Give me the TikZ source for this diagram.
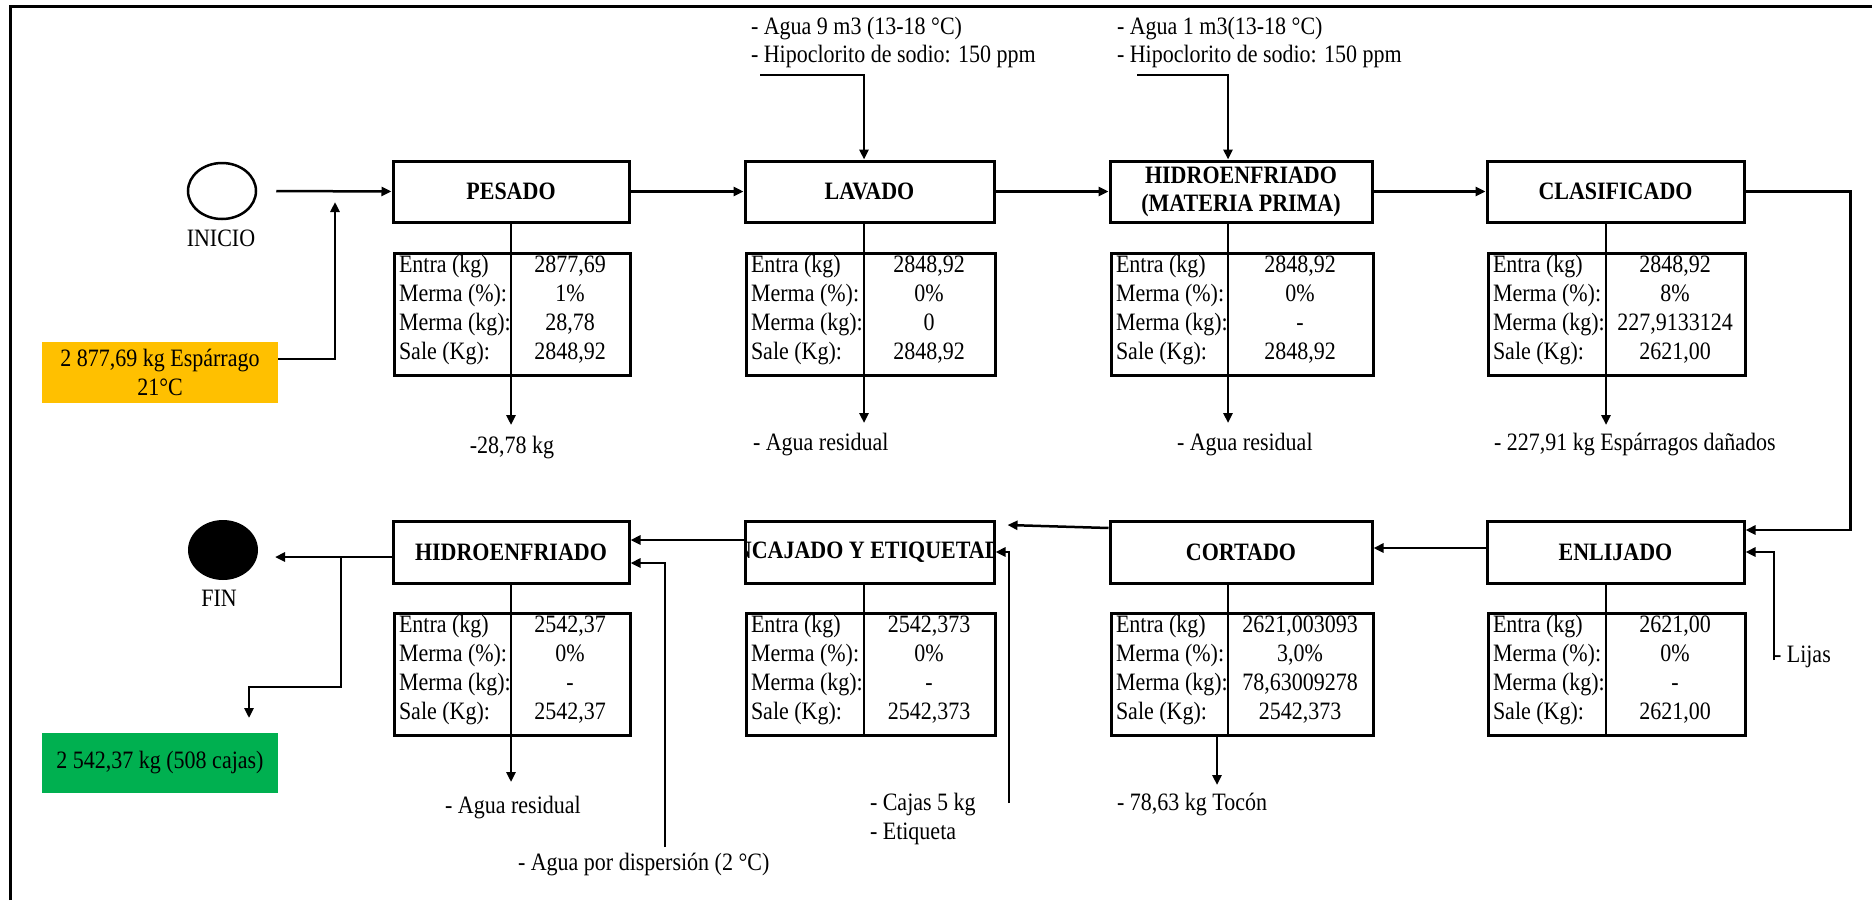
\documentclass[tikz,border=0pt]{standalone}
\usepackage{fontspec}
\setmainfont[FakeStretch=0.88]{Liberation Serif}
\usetikzlibrary{arrows.meta,shapes.geometric,calc}
\definecolor{amarillo}{HTML}{FFC000}
\definecolor{verde}{HTML}{00B050}

\tikzset{
  txt/.style={font=\fontsize{25}{28}\selectfont, inner sep=0pt, outer sep=0pt},
  proc/.style={draw, line width=3pt, inner sep=0pt, minimum height=61pt,
    font=\fontsize{25}{28}\selectfont\bfseries, align=center},
  tbl/.style={draw, line width=3pt, inner sep=0pt, minimum height=122pt, anchor=north west},
  con/.style={line width=2.5pt},
  arr/.style={con, -{Triangle[length=10pt,width=9pt]}},
}

% balance table: name, left x, top y, width, divider x, entra, merma %, merma kg, sale
\newcommand\tabla[9]{%
  \node[tbl, minimum width=#4pt] (#1) at (#2,#3) {};
  \coordinate (#1-d) at (#5,#3);
  \draw[line width=2.5pt] (#5,#3) -- (#5,{#3+122});
  \node[txt, anchor=mid west] (#1-l1) at ({#2+6},{#3+18}) {Entra (kg)};
  \node[txt, anchor=mid west] (#1-l2) at ({#2+6},{#3+47}) {Merma (\%):};
  \node[txt, anchor=mid west] (#1-l3) at ({#2+6},{#3+76}) {Merma (kg):};
  \node[txt, anchor=mid west] (#1-l4) at ({#2+6},{#3+105}) {Sale (Kg):};
  \node[txt, anchor=mid] (#1-v1) at ({(#5+#2+#4)/2},{#3+18}) {#6};
  \node[txt, anchor=mid] (#1-v2) at ({(#5+#2+#4)/2},{#3+47}) {#7};
  \node[txt, anchor=mid] (#1-v3) at ({(#5+#2+#4)/2},{#3+76}) {#8};
  \node[txt, anchor=mid] (#1-v4) at ({(#5+#2+#4)/2},{#3+105}) {#9};
}

\begin{document}
\begin{tikzpicture}[x=1pt,y=-1pt]
\fill[white] (0,0) rectangle (1872,900);
\useasboundingbox (0,0) rectangle (1872,900);
\draw[line width=3pt] (10,900) -- (10,6) -- (1872,6);

% start and end
\node[draw, ellipse, line width=2.5pt, minimum width=68pt, minimum height=56pt, inner sep=0pt] (ini) at (222,191) {};
\node[txt] (inilab) at (221,238) {INICIO};
\node[fill, ellipse, minimum width=70pt, minimum height=60pt, inner sep=0pt] (fin) at (223,550) {};
\node[txt] (finlab) at (219,598) {FIN};

% process boxes, first row
\node[proc, minimum width=236pt] (pes) at (511,191.5) {PESADO};
\node[proc, minimum width=249pt] (lav) at (869.5,191.5) {LAVADO};
\node[proc, minimum width=262pt] (hmp) at (1241,191.5) {HIDROENFRIADO\\(MATERIA PRIMA)};
\node[proc, minimum width=257pt] (cla) at (1615.5,191.5) {CLASIFICADO};

% process boxes, second row
\node[proc, minimum width=236pt, minimum height=62pt] (hid) at (511,552) {HIDROENFRIADO};
\node[proc, minimum width=249pt, minimum height=62pt,
  path picture={\node[font=\fontsize{25}{28}\selectfont\bfseries, inner sep=0pt] (enctxt)
    at (path picture bounding box.center) {ENCAJADO Y ETIQUETADO};}] (enc) at (869.5,552) {};
\node[proc, minimum width=262pt, minimum height=62pt] (cor) at (1241,552) {CORTADO};
\node[proc, minimum width=257pt, minimum height=62pt] (enl) at (1615.5,552) {ENLIJADO};

% balance tables
\tabla{tpes}{393}{252}{236}{511}{2877,69}{1\%}{28,78}{2848,92}
\tabla{tlav}{745}{252}{249}{864}{2848,92}{0\%}{0}{2848,92}
\tabla{thmp}{1110}{252}{262}{1228}{2848,92}{0\%}{-}{2848,92}
\tabla{tcla}{1487}{252}{257}{1606}{2848,92}{8\%}{227,9133124}{2621,00}
\tabla{thid}{393}{612}{236}{511}{2542,37}{0\%}{-}{2542,37}
\tabla{tenc}{745}{612}{249}{864}{2542,373}{0\%}{-}{2542,373}
\tabla{tcor}{1110}{612}{262}{1228}{2621,003093}{3,0\%}{78,63009278}{2542,373}
\tabla{tenl}{1487}{612}{257}{1606}{2621,00}{0\%}{-}{2621,00}

% raw material and final product
\node[txt, fill=amarillo, minimum width=236pt, minimum height=61pt, align=center,
  font=\fontsize{25}{29}\selectfont] (yel) at (160,372.5) {2 877,69 kg Espárrago\\21°C};
\node[txt, fill=verde, minimum width=236pt, minimum height=60pt] (grn) at (160,763) {2 542,37 kg (508 cajas)};

% inputs
\node[txt, anchor=mid west] (lavin1) at (751,32) {- Agua 9 m3 (13-18 °C)};
\node[txt, anchor=mid west] (lavin2) at (751,60) {- Hipoclorito de sodio: 150 ppm};
\node[txt, anchor=mid west] (hmpin1) at (1117,32) {- Agua 1 m3(13-18 °C)};
\node[txt, anchor=mid west] (hmpin2) at (1117,60) {- Hipoclorito de sodio: 150 ppm};
\node[txt, anchor=mid west] (caj1) at (870,808) {- Cajas 5 kg};
\node[txt, anchor=mid west] (caj2) at (870,837) {- Etiqueta};
\node[txt, anchor=mid west] (disp) at (518,868) {- Agua por dispersión (2 °C)};
\node[txt, anchor=mid west] (lij) at (1774,660) {- Lijas};

% outputs
\node[txt] (pesres) at (512,448) {-28,78 kg};
\node[txt, anchor=mid west] (lavres) at (753,448) {- Agua residual};
\node[txt, anchor=mid west] (hmpres) at (1177,448) {- Agua residual};
\node[txt, anchor=mid west] (clares) at (1494,448) {- 227,91 kg Espárragos dañados};
\node[txt] (hidres) at (513,808) {- Agua residual};
\node[txt, anchor=mid west] (corres) at (1117,808) {- 78,63 kg Tocón};

% connector end points
\coordinate (yelin) at (335,202);
\coordinate (lavinA) at (760,75);
\coordinate (hmpinA) at (1137,75);
\coordinate (pesout) at (511,425);
\coordinate (lavout) at (864,423);
\coordinate (hmpout) at (1228,423);
\coordinate (claout) at (1606,425);
\coordinate (finin) at (275,557);
\coordinate (br) at (341,557);
\coordinate (brk) at (249,687);
\coordinate (grnin) at (249,718);
\coordinate (hidout) at (511,782);
\coordinate (corout) at (1217,785);
\coordinate (cajin) at (1009,803);
\coordinate (dispin) at (665,847);

% first row flow
\draw[arr] ([xshift=19pt]ini.east) -- (pes.west);
\draw[arr] ([yshift=13.5pt]yel.east) -| (yelin);
\draw[arr] (pes.east) -- (lav.west);
\draw[arr] (lav.east) -- (hmp.west);
\draw[arr] (hmp.east) -- (cla.west);
\draw[arr] (cla.east) -- ++(105,0) |- ([yshift=22pt]enl.east);
\draw[arr] (lavinA) -| (lav.north -| tlav-d);
\draw[arr] (hmpinA) -| (hmp.north -| thmp-d);
\draw[arr] (pes.south) -- (pesout);
\draw[arr] (lav.south -| tlav-d) -- (lavout);
\draw[arr] (hmp.south -| thmp-d) -- (hmpout);
\draw[arr] (cla.south -| tcla-d) -- (claout);

% second row flow
\draw[arr] ([yshift=4pt]enl.west) -- ([yshift=4pt]cor.east);
\draw[arr] ([yshift=24pt]cor.west) -- ([xshift=12pt,yshift=27pt]enc.east);
\draw[arr] ([yshift=12pt]enc.west) -- ([yshift=12pt]hid.east);
\draw[arr] ([yshift=-5pt]hid.west) -- (finin);
\draw[arr] (br) |- (brk) -- (grnin);
\draw[arr] (lij.mid west) |- (enl.east);
\draw[arr] (cajin) |- (enc.east);
\draw[arr] (dispin) |- ([yshift=-11pt]hid.east);
\draw[arr] (hid.south) -- (hidout);
\draw[con] (enc.south -| tenc-d) -- (tenc.north -| tenc-d);
\draw[con] (cor.south -| tcor-d) -- (tcor.north -| tcor-d);
\draw[con] (enl.south -| tenl-d) -- (tenl.north -| tenl-d);
\draw[arr] (tcor.south -| corout) -- (corout);
\end{tikzpicture}
\end{document}
